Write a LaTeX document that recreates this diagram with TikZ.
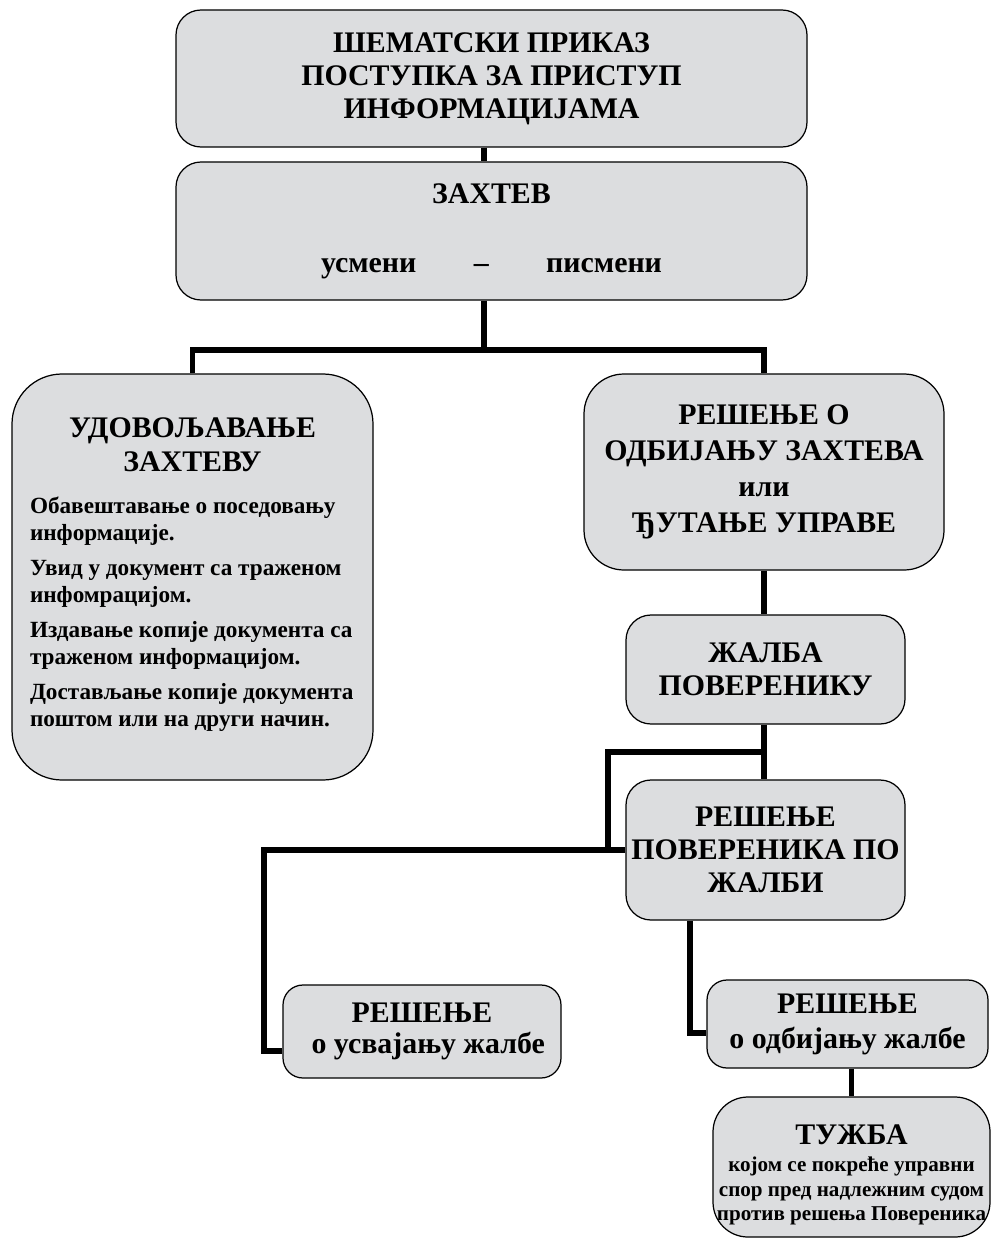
\documentclass[tikz,border=0pt]{standalone}
\usepackage{fontspec}
\setmainfont{Liberation Serif}
\usetikzlibrary{positioning}
\definecolor{boxgray}{RGB}{220,221,223}

\begin{document}
\begin{tikzpicture}[every node/.style={draw=black, fill=boxgray, line width=0.7pt, align=center, inner sep=0pt, font=\bfseries\fontsize{17}{18.8}\selectfont},
	link/.style={line width=3pt}]
				\useasboundingbox (0,0) rectangle (19.84,-24.8);
				% Nodes
				\node[rounded corners=0.5cm, minimum width=12.62cm, minimum height=2.74cm] (title) at (9.83,-1.57) {ШЕМАТСКИ ПРИКАЗ\\ПОСТУПКА ЗА ПРИСТУП\\ИНФОРМАЦИЈАМА};
				\node[rounded corners=0.5cm, minimum width=12.62cm, minimum height=2.76cm] (zahtev) at (9.83,-4.62) {ЗАХТЕВ\\[0.72cm]усмени\hspace{1.15cm}–\hspace{1.15cm}писмени};
				\node[rounded corners=1cm, minimum width=7.22cm, minimum height=8.12cm] (udov) at (3.85,-11.54) {\parbox{6.5cm}{\centering\fontsize{17}{19.4}\selectfont УДОВОЉАВАЊЕ\par ЗАХТЕВУ\par
					\raggedright\vspace{0.3cm}\fontsize{13.2}{15.4}\selectfont
					Обавештавање~о~поседовању\newline информације.\par\vspace{0.16cm}
					Увид~у~документ~са~траженом\newline инфомрацијом.\par\vspace{0.16cm}
					Издавање~копије~документа~са\newline траженом~информацијом.\par\vspace{0.16cm}
					Достављање~копије~документа\newline поштом~или~на~други~начин.\par\vspace{0.1cm}}};
				\node[rounded corners=0.8cm, minimum width=7.2cm, minimum height=3.92cm, font=\bfseries\fontsize{17}{20.4}\selectfont] (odbij) at (15.28,-9.44) {РЕШЕЊЕ О\\ОДБИЈАЊУ ЗАХТЕВА\\или\\ЂУТАЊЕ УПРАВЕ};
				\node[rounded corners=0.5cm, minimum width=5.58cm, minimum height=2.18cm] (zalba) at (15.31,-13.39) {ЖАЛБА\\ПОВЕРЕНИКУ};
				\node[rounded corners=0.5cm, minimum width=5.58cm, minimum height=2.8cm] (respov) at (15.31,-17.0) {РЕШЕЊЕ\\ПОВЕРЕНИКА ПО\\ЖАЛБИ};
				\node[rounded corners=0.4cm, minimum width=5.56cm, minimum height=1.86cm, font=\bfseries\fontsize{17}{17.6}\selectfont] (usv) at (8.44,-20.63) {РЕШЕЊЕ\\\hspace{0.25cm}о усвајању жалбе};
				\node[rounded corners=0.4cm, minimum width=5.62cm, minimum height=1.76cm, font=\bfseries\fontsize{17}{19.9}\selectfont] (odb) at (16.95,-20.48) {РЕШЕЊЕ\\о одбијању жалбе};
				\node[rounded corners=0.7cm, minimum width=5.54cm, minimum height=2.8cm, font=\bfseries\fontsize{12}{13.9}\selectfont] (tuzba) at (17.03,-23.34) {{\fontsize{17}{17}\selectfont\rule{0pt}{0.72cm}ТУЖБА}\\[0.05cm]којом се покреће управни\\спор пред надлежним судом\\против решења Повереника};

				% Bends
				\coordinate (split) at (9.68,-7.0);
				\coordinate (loop) at (12.16,-15.04);
				\coordinate (lbend) at (5.28,-21.02);
				\coordinate (rbend) at (13.8,-20.66);

				% Edges
				\draw[link] (title.south -| split) -- (zahtev.north -| split);
				\draw[link] (zahtev.south -| split) -- (split);
				\draw[link] (udov.north) |- (split) -| (odbij.north);
				\draw[link] (odbij.south) -- (odbij.south |- zalba.north);
				\draw[link] (odbij.south |- zalba.south) -- (odbij.south |- respov.north);
				\draw[link] (odbij.south |- loop) -| (loop |- respov.west) -- (respov.west);
				\draw[link] (respov.west) -| (lbend) -- (lbend -| usv.west);
				\draw[link] (respov.south -| rbend) -- (rbend) -- (rbend -| odb.west);
				\draw[link] (odb.south -| tuzba.north) -- (tuzba.north);
			\end{tikzpicture}
\end{document}
